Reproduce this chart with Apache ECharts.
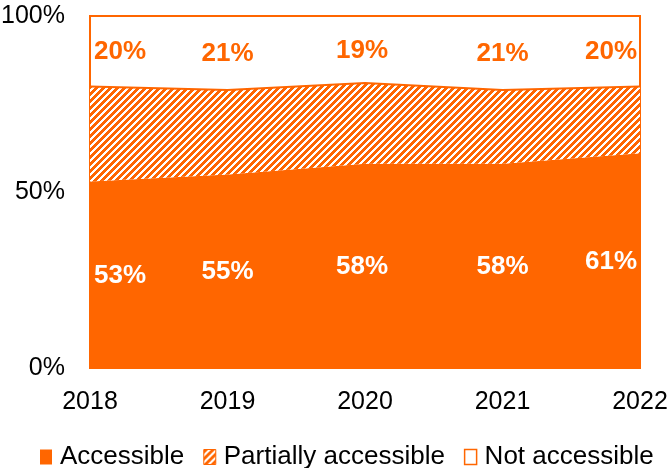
<!DOCTYPE html>
<html>
<head>
<meta charset="utf-8">
<script src="https://cdn.jsdelivr.net/npm/echarts@6/dist/echarts.min.js"></script>
<style>
  html, body { margin: 0; padding: 0; background: #fff; }
  #chart { width: 671px; height: 468px; }
</style>
</head>
<body>
<div id="chart"></div>
<script>
const years = ['2018', '2019', '2020', '2021', '2022'];
const accessible = [53, 55, 58, 58, 61];
const partially = [27, 24, 23, 21, 19];
const notAccessible = [20, 21, 19, 21, 20];
const yTicks = [0, 50, 100];

const ORANGE = '#ff6600';
const FONT = "'Liberation Sans', Arial, sans-serif";
// nudge the end labels inward, like the original
const labelShift = [30, 0, -3, 0, -29];

// diagonal hatch tile for "Partially accessible"
function makeHatch() {
  const c = document.createElement('canvas');
  c.width = 7; c.height = 7;
  const g = c.getContext('2d');
  g.fillStyle = '#fff';
  g.fillRect(0, 0, 7, 7);
  g.fillStyle = ORANGE;
  for (let x = 0; x < 7; x++) {
    for (let y = 0; y < 7; y++) {
      if ((x + y) % 7 < 4) g.fillRect(x, y, 1, 1);
    }
  }
  return c;
}
const hatch = { image: makeHatch(), repeat: 'repeat' };

const chart = echarts.init(document.getElementById('chart'), null, { renderer: 'canvas' });

// labels sit in the middle of each band
const lowLabels = accessible.map((v, i) => ({
  value: [i, v / 2],
  pct: v,
  label: { offset: [labelShift[i], 1] }
}));
const topLabels = notAccessible.map((v, i) => ({
  value: [i, accessible[i] + partially[i] + v / 2],
  pct: v,
  label: { offset: [labelShift[i], 1] }
}));

const labelStyle = (color) => ({
  show: true, position: 'inside', color: color, opacity: 1,
  fontFamily: FONT, fontSize: 26, fontWeight: 'bold',
  formatter: p => p.data.pct + '%'
});

const option = {
  animation: false,
  backgroundColor: '#fff',
  grid: {
    left: 90, right: 31, top: 16, bottom: 100,
    show: true, borderColor: ORANGE, borderWidth: 2,
    outerBoundsMode: 'none'
  },
  legend: {
    left: 35, top: 439,
    itemWidth: 12, itemHeight: 15, itemGap: 19,
    textStyle: { fontFamily: FONT, fontSize: 26, color: '#000', padding: [0, 0, 0, 3] },
    data: [
      { name: 'Accessible', icon: 'rect', itemStyle: { color: ORANGE, borderWidth: 0 } },
      { name: 'Partially accessible', icon: 'rect', itemStyle: { color: hatch, borderColor: ORANGE, borderWidth: 1 } },
      { name: 'Not accessible', icon: 'rect', itemStyle: { color: '#fff', borderColor: ORANGE, borderWidth: 1.5 } }
    ]
  },
  xAxis: {
    type: 'category',
    data: years,
    boundaryGap: false,
    axisLine: { show: false },
    axisTick: { show: false },
    axisLabel: { fontFamily: FONT, fontSize: 25, color: '#000', margin: 22 }
  },
  yAxis: {
    type: 'value',
    min: 0, max: 100, interval: 50,
    splitLine: { show: false },
    axisLine: { show: false },
    axisTick: { show: false },
    axisLabel: {
      fontFamily: FONT, fontSize: 25, color: '#000', margin: 25,
      formatter: v => yTicks.includes(v) ? v + '%' : ''
    }
  },
  series: [
    {
      name: 'Accessible', type: 'line', stack: 'total', data: accessible,
      symbol: 'none', lineStyle: { width: 0 },
      itemStyle: { color: ORANGE },
      areaStyle: { color: ORANGE, opacity: 1 }
    },
    {
      name: 'Partially accessible', type: 'line', stack: 'total', data: partially,
      symbol: 'none', lineStyle: { width: 2, color: ORANGE },
      itemStyle: { color: ORANGE },
      areaStyle: { color: hatch, opacity: 1 }
    },
    {
      name: 'Not accessible', type: 'line', stack: 'total', data: notAccessible,
      symbol: 'none', lineStyle: { width: 0 },
      itemStyle: { color: '#fff' },
      areaStyle: { opacity: 0 }
    },
    {
      name: 'lowLabels', type: 'scatter', data: lowLabels, symbolSize: 0, silent: true,
      itemStyle: { opacity: 1 },
      label: labelStyle('#fff'),
      emphasis: { disabled: true },
      z: 5
    },
    {
      name: 'topLabels', type: 'scatter', data: topLabels, symbolSize: 0, silent: true,
      itemStyle: { opacity: 1 },
      label: labelStyle(ORANGE),
      emphasis: { disabled: true },
      z: 5
    }
  ]
};

chart.setOption(option);
</script>
</body>
</html>
